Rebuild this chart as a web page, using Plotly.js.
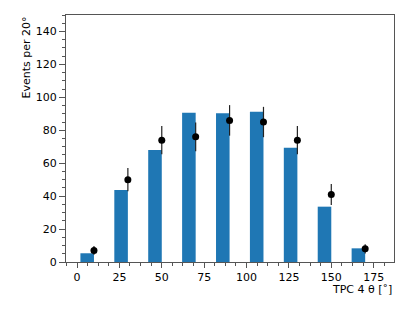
<!DOCTYPE html>
<html>
<head>
<meta charset="utf-8">
<script src="https://cdn.plot.ly/plotly-3.0.1.min.js"></script>
<style>html,body{margin:0;padding:0;background:#fff;}#chart{width:415px;height:312px;}</style>
</head>
<body>
<div id="chart"></div>
<script>
// Data
const binCenters = [10, 30, 50, 70, 90, 110, 130, 150, 170];
const mcCounts = [5.3, 43.7, 68, 90.7, 90.3, 91.3, 69.4, 33.6, 8.3];
const dataCounts = [7, 50, 74, 76, 86, 85, 74, 41, 8];
const dataErrors = dataCounts.map(v => Math.sqrt(v));
const xTickVals = [0, 25, 50, 75, 100, 125, 150, 175];
const yTickVals = [0, 20, 40, 60, 80, 100, 120, 140];

const font = "DejaVu Sans, sans-serif";
const axisColor = "#555555";

const traces = [
  {
    type: "bar",
    x: binCenters,
    y: mcCounts,
    width: 8,
    offset: -8,
    marker: {color: "#1f77b4", line: {width: 0}},
    hoverinfo: "skip"
  },
  {
    type: "scatter",
    mode: "markers",
    x: binCenters,
    y: dataCounts,
    marker: {color: "#000000", size: 7},
    error_y: {type: "data", array: dataErrors, visible: true, color: "#222222", thickness: 1.2, width: 0}
  }
];

const layout = {
  width: 415,
  height: 312,
  margin: {l: 66, r: 21, t: 15, b: 50},
  paper_bgcolor: "#ffffff",
  plot_bgcolor: "#ffffff",
  showlegend: false,
  font: {family: font, size: 11, color: "#000000"},
  xaxis: {
    range: [-6.5, 187],
    tickvals: xTickVals,
    ticktext: xTickVals.map(String),
    ticks: "outside",
    ticklen: 5,
    tickwidth: 1,
    tickcolor: axisColor,
    showline: true,
    linecolor: axisColor,
    linewidth: 1,
    mirror: true,
    showgrid: false,
    zeroline: false,
    minor: {dtick: 6.25, tick0: 0, ticks: "outside", ticklen: 3, tickcolor: axisColor, showgrid: false},
    tickfont: {family: font, size: 11, color: "#000000"}
  },
  yaxis: {
    range: [0, 150],
    tickvals: yTickVals,
    ticktext: yTickVals.map(String),
    ticks: "outside",
    ticklen: 6,
    tickwidth: 1,
    tickcolor: axisColor,
    showline: true,
    linecolor: axisColor,
    linewidth: 1,
    mirror: true,
    showgrid: false,
    zeroline: false,
    minor: {dtick: 5, tick0: 0, ticks: "outside", ticklen: 3, tickcolor: axisColor, showgrid: false},
    tickfont: {family: font, size: 11, color: "#000000"}
  },
  annotations: [
    {
      text: "TPC 4 θ [˚]",
      xref: "paper", yref: "paper",
      x: 1, y: 0,
      xanchor: "right", yanchor: "top",
      yshift: -19,
      showarrow: false,
      font: {family: font, size: 11, color: "#000000"}
    },
    {
      text: "Events per 20°",
      xref: "paper", yref: "paper",
      x: 0, y: 1,
      xanchor: "right", yanchor: "top",
      xshift: -32,
      textangle: -90,
      showarrow: false,
      font: {family: font, size: 11, color: "#000000"}
    }
  ]
};

Plotly.newPlot("chart", traces, layout, {displayModeBar: false, staticPlot: true});
</script>
</body>
</html>
